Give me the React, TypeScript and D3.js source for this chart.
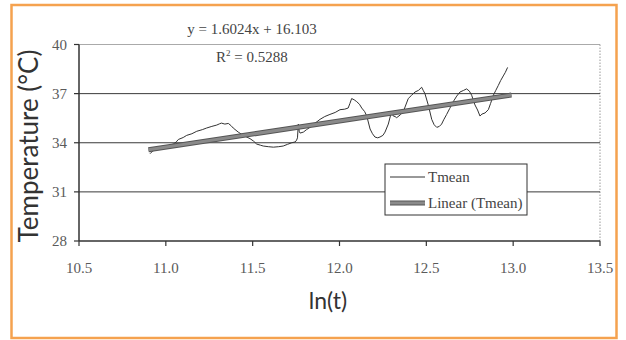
import * as d3 from 'd3';

// ln(t) and mean temperature
const lnT = [
  10.909, 10.925, 10.938, 10.96, 10.985, 11.015, 11.043, 11.06, 11.072, 11.1, 11.12, 11.15, 11.178,
  11.21, 11.235, 11.265, 11.293, 11.31, 11.32, 11.34, 11.36, 11.375, 11.388, 11.417, 11.446,
  11.485, 11.505, 11.523, 11.545, 11.561, 11.59, 11.619, 11.65, 11.676, 11.7, 11.725, 11.745,
  11.753, 11.758, 11.763, 11.768, 11.773, 11.792, 11.81, 11.83, 11.86, 11.888, 11.915, 11.945,
  11.975, 12.003, 12.03, 12.05, 12.06, 12.07, 12.085, 12.099, 12.115, 12.128, 12.145, 12.157,
  12.176, 12.19, 12.204, 12.22, 12.233, 12.25, 12.262, 12.281, 12.3, 12.305, 12.31, 12.32,
  12.329, 12.35, 12.368, 12.396, 12.415, 12.435, 12.455, 12.473, 12.482, 12.492, 12.511,
  12.531, 12.545, 12.56, 12.575, 12.588, 12.6, 12.617, 12.635, 12.655, 12.675, 12.694, 12.715,
  12.732, 12.748, 12.761, 12.78, 12.795, 12.809, 12.82, 12.838, 12.857, 12.87, 12.886, 12.9,
  12.914, 12.928, 12.943, 12.955, 12.968,
];
const tMean = [
  33.33, 33.5, 33.57, 33.65, 33.76, 33.82, 33.92, 34.05, 34.2, 34.32, 34.45, 34.55, 34.7,
  34.8, 34.9, 35.0, 35.08, 35.16, 35.2, 35.14, 35.18, 35.05, 34.9, 34.65, 34.45,
  34.25, 34.1, 33.92, 33.85, 33.8, 33.76, 33.73, 33.76, 33.8, 33.9, 34.0, 34.05,
  34.16, 34.3, 35.14, 34.7, 34.59, 34.65, 34.8, 34.94, 35.2, 35.43, 35.6, 35.73,
  35.85, 36.02, 36.05, 36.12, 36.4, 36.7, 36.62, 36.51, 36.35, 36.12, 35.9, 35.63,
  34.84, 34.55, 34.35, 34.3, 34.35, 34.45, 34.65, 35.14, 35.92, 35.75, 35.63, 35.6,
  35.53, 35.7, 35.92, 36.7, 36.9, 37.1, 37.2, 37.39, 37.2, 37.0, 36.31,
  35.43, 35.1, 34.94, 35.0, 35.14, 35.4, 35.73, 36.1, 36.51, 36.85, 37.1, 37.2,
  37.29, 37.15, 36.9, 36.31, 36.0, 35.63, 35.75, 35.82, 36.02, 36.4, 36.9, 37.2,
  37.49, 37.8, 38.08, 38.3, 38.6,
];

// Excel linear trendline shown on the chart
const trendSlope = 1.6024;
const trendIntercept = 16.103;
const trendRange = [10.9, 12.99];

const xTicks = [10.5, 11.0, 11.5, 12.0, 12.5, 13.0, 13.5];
const yTicks = [28, 31, 34, 37, 40];
const legendLabels = ['Tmean', 'Linear (Tmean)'];

const serif = '"Liberation Serif", "DejaVu Serif", serif';
const sans = 'Lato, "Open Sans", sans-serif';

export default function App() {
  const width = 626;
  const height = 340;
  const left = 79, right = 600, top = 44.5, bottom = 241;

  const x = d3.scaleLinear().domain([10.5, 13.5]).range([left, right]);
  const y = d3.scaleLinear().domain([28, 40]).range([bottom, top]);

  const points = lnT.map((v, i) => [v, tMean[i]] as [number, number]);
  const line = d3.line<[number, number]>().x(d => x(d[0])).y(d => y(d[1]));
  const trend = trendRange.map(v => [v, trendSlope * v + trendIntercept] as [number, number]);

  const lx = 385, ly = 164, lw = 142, lh = 51;

  return (
    <div style={{ position: 'fixed', left: 0, top: 0 }}>
      <svg width={width} height={height} style={{ display: 'block', background: '#fff' }}>
        <rect x={11.5} y={5} width={605} height={333} fill="#fff" stroke="#f5a24f" strokeWidth={2.5} />

        {/* plot frame */}
        <line x1={left} x2={right} y1={top} y2={top} stroke="#aaa" strokeWidth={1} />
        <line x1={right} x2={right} y1={top} y2={bottom} stroke="#999" strokeWidth={1} strokeDasharray="1.5,1.5" />

        {yTicks.filter(t => t !== 28 && t !== 40).map(t => (
          <line key={t} x1={left} x2={right} y1={y(t)} y2={y(t)} stroke="#3a3a3a" strokeWidth={1} />
        ))}

        {/* axes */}
        <line x1={left} x2={left} y1={top} y2={bottom} stroke="#333" strokeWidth={1.5} />
        <line x1={left} x2={right} y1={bottom} y2={bottom} stroke="#333" strokeWidth={1.5} />
        {yTicks.map(t => (
          <g key={t}>
            <line x1={left - 5} x2={left} y1={y(t)} y2={y(t)} stroke="#333" strokeWidth={1.2} />
            <text x={left - 12} y={y(t)} dy="0.35em" textAnchor="end" fontFamily={serif} fontSize={15} fill="#5a5a5a">
              {t}
            </text>
          </g>
        ))}
        {xTicks.map(t => (
          <g key={t}>
            <line x1={x(t)} x2={x(t)} y1={bottom} y2={bottom + 5} stroke="#333" strokeWidth={1.2} />
            <text x={x(t)} y={bottom + 32} textAnchor="middle" fontFamily={serif} fontSize={15} fill="#5a5a5a">
              {t.toFixed(1)}
            </text>
          </g>
        ))}

        {/* data */}
        <path d={line(points) || ''} fill="none" stroke="#333" strokeWidth={1} strokeLinejoin="round" />
        <path d={line(trend) || ''} fill="none" stroke="#555" strokeWidth={5} />
        <path d={line(trend) || ''} fill="none" stroke="#8a8a8a" strokeWidth={3} />

        {/* trendline label */}
        <text x={252} y={34} textAnchor="middle" fontFamily={serif} fontSize={15} fill="#444">
          y = 1.6024x + 16.103
        </text>
        <text x={216} y={62} fontFamily={serif} fontSize={15} fill="#444">
          R<tspan dy={-6} fontSize={9}>2</tspan><tspan dy={6}> = 0.5288</tspan>
        </text>

        {/* legend */}
        <rect x={lx} y={ly} width={lw} height={lh} fill="#fff" stroke="#333" strokeWidth={1} />
        <line x1={lx + 5} x2={lx + 40} y1={ly + 13} y2={ly + 13} stroke="#333" strokeWidth={1} />
        <text x={lx + 43} y={ly + 18} fontFamily={serif} fontSize={15} fill="#444">{legendLabels[0]}</text>
        <line x1={lx + 5} x2={lx + 40} y1={ly + 39} y2={ly + 39} stroke="#555" strokeWidth={5} />
        <line x1={lx + 5} x2={lx + 40} y1={ly + 39} y2={ly + 39} stroke="#8a8a8a" strokeWidth={3} />
        <text x={lx + 43} y={ly + 44} fontFamily={serif} fontSize={15} fill="#444">{legendLabels[1]}</text>

        {/* axis titles */}
        <text x={328} y={309} textAnchor="middle" fontFamily={sans} fontSize={23} fill="#333">ln(t)</text>
        <text
          transform={`translate(38,146) rotate(-90)`}
          textAnchor="middle"
          fontFamily={sans}
          fontSize={26}
          fill="#333"
        >
          Temperature (°C)
        </text>
      </svg>
    </div>
  );
}
